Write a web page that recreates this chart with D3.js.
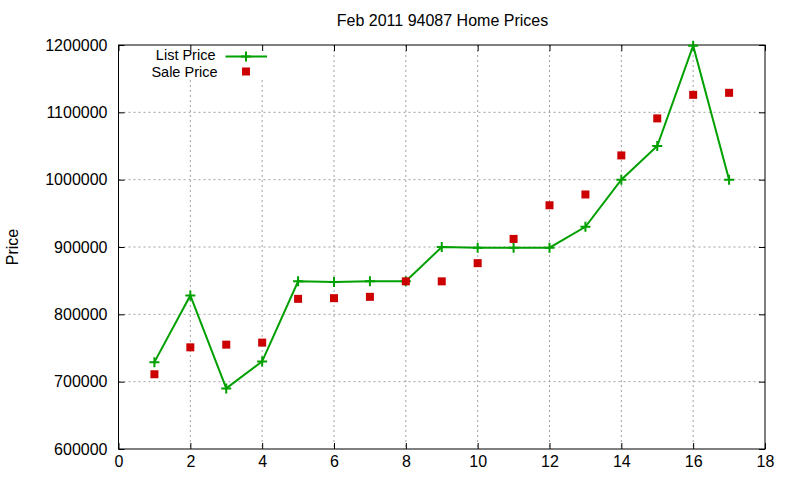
<!DOCTYPE html>
<html>
<head>
<meta charset="utf-8">
<script src="https://cdn.jsdelivr.net/npm/d3@7"></script>
<style>
  body { margin: 0; background: #fff; }
  text { font-family: "Liberation Sans", Arial, sans-serif; fill: #000; }
</style>
</head>
<body>
<div id="chart"></div>
<script>
// data
const months = [1, 2, 3, 4, 5, 6, 7, 8, 9, 10, 11, 12, 13, 14, 15, 16, 17];
const listPrice = [729000, 828000, 690000, 730000, 849000, 848000, 849000, 849000, 900000,
                   899000, 899000, 899000, 930000, 1000000, 1050000, 1199000, 1000000];
const salePrice = [711000, 751000, 755000, 758000, 823000, 824000, 826000, 849000, 849000,
                   876000, 912000, 962000, 978000, 1036000, 1091000, 1126000, 1129000];
const xTicks = [0, 2, 4, 6, 8, 10, 12, 14, 16, 18];
const yTicks = [600000, 700000, 800000, 900000, 1000000, 1100000, 1200000];

const width = 800, height = 480;
const margin = { top: 45, right: 35, bottom: 31, left: 118.5 };
const w = width - margin.left - margin.right;
const h = height - margin.top - margin.bottom;

const svg = d3.select("#chart").append("svg")
    .attr("width", width)
    .attr("height", height);

const g = svg.append("g")
    .attr("transform", "translate(" + margin.left + "," + margin.top + ")");

const x = d3.scaleLinear().domain([0, 18]).range([0, w]);
const y = d3.scaleLinear().domain([600000, 1200000]).range([h, 0]);

// grid
g.append("g").selectAll("line").data(xTicks.slice(1, -1)).join("line")
    .attr("x1", d => x(d)).attr("x2", d => x(d))
    .attr("y1", 0).attr("y2", h)
    .attr("stroke", "#a0a0a0").attr("stroke-dasharray", "2,3");
g.append("g").selectAll("line").data(yTicks.slice(1, -1)).join("line")
    .attr("y1", d => y(d)).attr("y2", d => y(d))
    .attr("x1", 0).attr("x2", w)
    .attr("stroke", "#a0a0a0").attr("stroke-dasharray", "2,3");

// key area blanks the grid
g.append("rect").attr("x", 22).attr("y", 1).attr("width", 130).attr("height", 34).attr("fill", "#fff");

// axes: ticks drawn inward on all four sides
g.append("g").attr("transform", "translate(0," + h + ")")
    .call(d3.axisBottom(x).tickValues(xTicks).tickSizeInner(-6).tickSizeOuter(0).tickPadding(7))
    .call(a => a.select(".domain").remove());
g.append("g").call(d3.axisTop(x).tickValues(xTicks).tickSizeInner(-6).tickSizeOuter(0).tickFormat(""))
    .call(a => a.select(".domain").remove());
g.append("g")
    .call(d3.axisLeft(y).tickValues(yTicks).tickSizeInner(-6).tickSizeOuter(0).tickPadding(11).tickFormat(d3.format("d")))
    .call(a => a.select(".domain").remove());
g.append("g").attr("transform", "translate(" + w + ",0)")
    .call(d3.axisRight(y).tickValues(yTicks).tickSizeInner(-6).tickSizeOuter(0).tickFormat(""))
    .call(a => a.select(".domain").remove());
g.selectAll(".tick text").style("font-size", "16px").style("font-family", "Liberation Sans, Arial, sans-serif");
g.selectAll(".tick line").attr("stroke", "#000");

g.append("rect").attr("width", w).attr("height", h)
    .attr("fill", "none").attr("stroke", "#000").attr("stroke-width", 1);

// list price line
const listData = months.map((m, i) => ({ m: m, v: listPrice[i] }));
const saleData = months.map((m, i) => ({ m: m, v: salePrice[i] }));
const line = d3.line().x(d => x(d.m)).y(d => y(d.v));

g.append("path").datum(listData)
    .attr("d", line)
    .attr("fill", "none")
    .attr("stroke", "#00a000")
    .attr("stroke-width", 2);

function drawPlus(sel, cx, cy) {
    sel.append("path")
        .attr("d", "M" + (cx - 5) + "," + cy + "H" + (cx + 5) + "M" + cx + "," + (cy - 5) + "V" + (cy + 5))
        .attr("stroke", "#00a000").attr("stroke-width", 2).attr("fill", "none");
}
listData.forEach(d => drawPlus(g, x(d.m), y(d.v)));

// sale price squares
g.selectAll(".sale").data(saleData).join("rect")
    .attr("class", "sale")
    .attr("x", d => x(d.m) - 4)
    .attr("y", d => y(d.v) - 4)
    .attr("width", 8).attr("height", 8)
    .attr("fill", "#cc0000");

// key
const key = g.append("g");
key.append("text").attr("x", 97).attr("y", 15).attr("text-anchor", "end")
    .style("font-size", "14.5px").text("List Price");
key.append("line").attr("x1", 107).attr("x2", 148.5).attr("y1", 11.5).attr("y2", 11.5)
    .attr("stroke", "#00a000").attr("stroke-width", 2);
drawPlus(key, 127.5, 11.5);
key.append("text").attr("x", 99).attr("y", 31.5).attr("text-anchor", "end")
    .style("font-size", "14.5px").text("Sale Price");
key.append("rect").attr("x", 123.5).attr("y", 22.5).attr("width", 8).attr("height", 8)
    .attr("fill", "#cc0000");

// title and axis label
svg.append("text").attr("x", 442.5).attr("y", 26).attr("text-anchor", "middle")
    .style("font-size", "16px").text("Feb 2011 94087 Home Prices");
svg.append("text").attr("transform", "translate(18," + (margin.top + h / 2) + ") rotate(-90)")
    .attr("text-anchor", "middle").style("font-size", "16px").text("Price");
</script>
</body>
</html>
